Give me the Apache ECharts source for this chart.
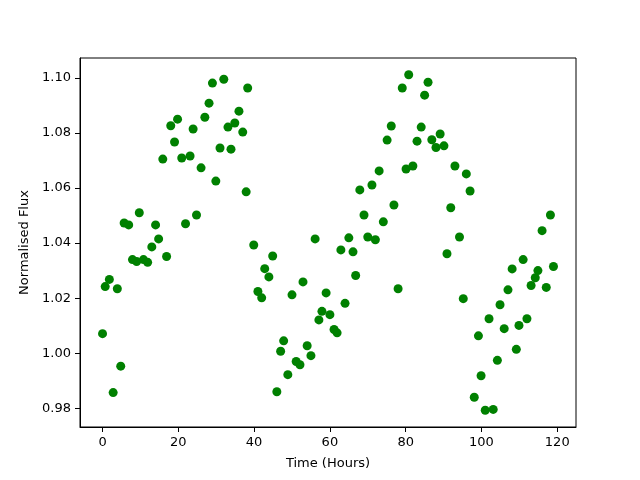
<!DOCTYPE html>
<html><head><meta charset="utf-8">
<script src="https://cdn.jsdelivr.net/npm/echarts@6/dist/echarts.min.js"></script>
<style>html,body{margin:0;padding:0;background:#fff}#c{width:640px;height:480px}</style>
</head><body><div id="c"></div>
<script>
const timeHours = [0.0, 0.7, 1.8, 2.8, 3.9, 4.8, 5.7, 6.9, 7.9, 9.0, 9.7, 10.8, 11.9, 13.0, 14.0, 14.8, 15.9, 16.9, 18.0, 19.0, 19.8, 20.9, 21.9, 23.1, 23.9, 24.8, 26.0, 27.0, 28.1, 29.0, 29.9, 31.0, 32.0, 33.1, 33.9, 34.9, 36.0, 37.0, 37.9, 38.3,
39.9, 41.0, 42.0, 42.8, 43.9, 44.9, 46.0, 47.0, 47.8, 48.9, 50.0, 51.1, 52.1, 52.9, 54.0, 55.0, 56.1, 57.1, 57.9, 59.0, 60.0, 61.1, 61.9, 62.9, 64.0, 65.0, 66.1, 66.8, 67.9, 69.0, 70.0, 71.1, 72.0, 73.0, 74.1, 75.1, 76.2, 76.9, 78.0, 79.1, 80.1, 80.8,
81.9, 83.0, 84.1, 85.0, 85.9, 86.9, 88.0, 89.1, 90.1, 90.9, 91.9, 93.0, 94.2, 95.2, 96.0, 97.0, 98.1, 99.2, 99.9, 101.0, 102.0, 103.1, 104.2, 104.9, 106.0, 107.0, 108.1, 109.2, 109.9, 111.0, 112.0, 113.1, 114.2, 114.9, 116.0, 117.1, 118.2, 119.0];
const flux = [1.0071, 1.0242, 1.0268, 0.9857, 1.0234, 0.9953, 1.0473, 1.0466, 1.034, 1.0333, 1.051, 1.034, 1.033, 1.0386, 1.0466, 1.0415, 1.0705, 1.0351, 1.0826, 1.0767, 1.085, 1.0709, 1.047, 1.0716, 1.0814, 1.0502, 1.0673, 1.0857, 1.0908, 1.0981, 1.0625, 1.0745, 1.0995, 1.0821, 1.0741, 1.0836, 1.0879, 1.0803, 1.0586, 1.0963,
1.0393, 1.0224, 1.0201, 1.0307, 1.0277, 1.0353, 0.986, 1.0007, 1.0045, 0.9922, 1.0212, 0.997, 0.9958, 1.0259, 1.0027, 0.9991, 1.0415, 1.0121, 1.0152, 1.0219, 1.014, 1.0086, 1.0074, 1.0375, 1.0181, 1.0419, 1.0368, 1.0282, 1.0593, 1.0502, 1.0422, 1.0611, 1.0412, 1.0662, 1.0477, 1.0774, 1.0825, 1.0538, 1.0234, 1.0963, 1.0669, 1.1011,
1.068, 1.077, 1.0821, 1.0937, 1.0984, 1.0775, 1.0747, 1.0796, 1.0753, 1.0361, 1.0528, 1.068, 1.0422, 1.0198, 1.0651, 1.0589, 0.984, 1.0063, 0.9918, 0.9793, 1.0125, 0.9796, 0.9974, 1.0176, 1.0089, 1.023, 1.0306, 1.0014, 1.0101, 1.034, 1.0125, 1.0246, 1.0274, 1.03, 1.0445, 1.0239, 1.0502, 1.0315];
const xTicks = [0, 20, 40, 60, 80, 100, 120];
const yTicks = [0.98, 1.00, 1.02, 1.04, 1.06, 1.08, 1.10];

const pts = timeHours.map((t, i) => [t, flux[i]]);
const font = 'DejaVu Sans';
const chart = echarts.init(document.getElementById('c'), null, {renderer: 'canvas'});
chart.setOption({
  animation: false,
  backgroundColor: '#fff',
  grid: {left: 80, right: 64, top: 58, bottom: 53, show: true, borderColor: '#000', borderWidth: 1, backgroundColor: 'transparent'},
  xAxis: {
    type: 'value', min: -5.95, max: 124.95,
    name: 'Time (Hours)', nameLocation: 'middle', nameGap: 30,
    nameTextStyle: {fontFamily: font, fontSize: 13, color: '#000'},
    axisLine: {show: true, onZero: false, lineStyle: {color: '#000', width: 1}},
    axisTick: {show: true, length: 5, lineStyle: {color: '#000'}, customValues: xTicks},
    axisLabel: {fontFamily: font, fontSize: 13, color: '#000', margin: 9, customValues: xTicks, formatter: v => String(v)},
    splitLine: {show: false}
  },
  yAxis: {
    type: 'value', min: 0.9732, max: 1.1072,
    name: 'Normalised Flux', nameLocation: 'middle', nameGap: 46,
    nameTextStyle: {fontFamily: font, fontSize: 13, color: '#000'},
    axisLine: {show: true, onZero: false, lineStyle: {color: '#000', width: 1}},
    axisTick: {show: true, length: 5, lineStyle: {color: '#000'}, customValues: yTicks},
    axisLabel: {fontFamily: font, fontSize: 13, color: '#000', margin: 9, customValues: yTicks, formatter: v => v.toFixed(2)},
    splitLine: {show: false}
  },
  series: [{
    type: 'scatter', data: pts, symbol: 'circle', symbolSize: 9,
    itemStyle: {color: '#008000', opacity: 1}
  }]
});
</script></body></html>
